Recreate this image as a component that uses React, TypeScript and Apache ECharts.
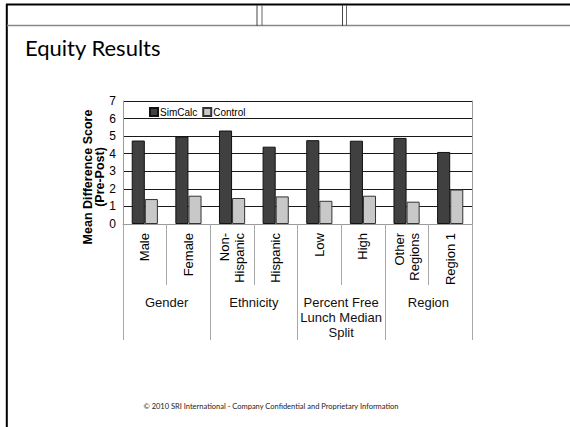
import React, { useEffect, useRef } from "react";
import * as echarts from "echarts";

const categories = ["Male", "Female", "Non-\nHispanic", "Hispanic", "Low", "High", "Other\nRegions", "Region 1"];
const groups = ["Gender", "Ethnicity", "Percent Free\nLunch Median\nSplit", "Region"];
const seriesNames = ["SimCalc", "Control"];
const simCalc = [4.75, 4.98, 5.32, 4.4, 4.77, 4.74, 4.9, 4.1];
const control = [1.42, 1.61, 1.48, 1.57, 1.32, 1.61, 1.27, 1.96];
const yMin = 0;
const yMax = 7;
const yStep = 1;
const titleText = "Equity Results";
const yAxisTitle = "Mean Difference Score\n(Pre-Post)";
const footerText = "© 2010 SRI International - Company Confidential and Proprietary Information";

const ARIAL = "'Liberation Sans', Arial, sans-serif";

export default function App() {
  const ref = useRef<HTMLDivElement>(null);
  useEffect(() => {
    if (!ref.current) return;
    const chart = echarts.init(ref.current, null, { renderer: "svg" });
    const option: any = {
      animation: false,
      backgroundColor: "#ffffff",
      grid: { left: 123, right: 98, top: 101, bottom: 203, containLabel: false },
      legend: {
        data: seriesNames,
        left: 149,
        top: 107,
        padding: 0,
        itemWidth: 8,
        itemHeight: 8,
        itemGap: 5,
        icon: "rect",
        textStyle: { fontFamily: ARIAL, fontSize: 10, color: "#000", padding: [0, 0, 0, -3] },
      },
      xAxis: [
        {
          type: "category",
          data: categories,
          gridIndex: 0,
          position: "bottom",
          axisLine: { show: true, lineStyle: { color: "#9a9a9a", width: 1 } },
          axisTick: { show: true, interval: 0, length: 61, lineStyle: { color: "#a8a8a8", width: 1 } },
          axisLabel: {
            interval: 0,
            rotate: 90,
            margin: 9,
            fontFamily: ARIAL,
            fontSize: 13,
            lineHeight: 15,
            color: "#000",
          },
        },
        {
          type: "category",
          data: groups,
          gridIndex: 0,
          position: "bottom",
          axisLine: { show: false },
          axisTick: { show: true, interval: 0, length: 116, lineStyle: { color: "#a8a8a8", width: 1 } },
          axisLabel: {
            interval: 0,
            margin: 71,
            fontFamily: ARIAL,
            fontSize: 13,
            lineHeight: 15,
            color: "#111",
            verticalAlign: "top",
          },
        },
      ],
      yAxis: [
        {
          type: "value",
          min: yMin,
          max: yMax,
          interval: yStep,
          axisLine: { show: true, lineStyle: { color: "#9a9a9a", width: 1 } },
          axisTick: { show: false },
          axisLabel: { fontFamily: ARIAL, fontSize: 12, color: "#000", margin: 7 },
          splitLine: { show: true, lineStyle: { color: "#1a1a1a", width: 1 } },
        },
        {
          type: "value",
          min: yMin,
          max: yMax,
          interval: yStep,
          position: "right",
          axisLine: { show: true, lineStyle: { color: "#9a9a9a", width: 1 } },
          axisTick: { show: false },
          axisLabel: { show: false },
          splitLine: { show: false },
        },
      ],
      series: [
        {
          name: seriesNames[0],
          type: "bar",
          data: simCalc,
          xAxisIndex: 0,
          yAxisIndex: 0,
          barGap: "0%",
          barCategoryGap: "40%",
          itemStyle: { color: "#404040", borderColor: "#111", borderWidth: 1 },
        },
        {
          name: seriesNames[1],
          type: "bar",
          data: control,
          xAxisIndex: 0,
          yAxisIndex: 0,
          barGap: "0%",
          barCategoryGap: "40%",
          itemStyle: { color: "#c8c8c8", borderColor: "#333", borderWidth: 1 },
        },
      ],
      graphic: [
        { type: "line", shape: { x1: 6, y1: 4.5, x2: 570, y2: 4.5 }, style: { stroke: "#000", lineWidth: 2 } },
        { type: "line", shape: { x1: 6.8, y1: 4, x2: 6.8, y2: 427 }, style: { stroke: "#000", lineWidth: 2 } },
        { type: "line", shape: { x1: 7, y1: 25.5, x2: 570, y2: 25.5 }, style: { stroke: "#888", lineWidth: 1.5 } },
        { type: "line", shape: { x1: 257, y1: 5, x2: 257, y2: 26 }, style: { stroke: "#444", lineWidth: 1 } },
        { type: "line", shape: { x1: 262, y1: 5, x2: 262, y2: 26 }, style: { stroke: "#666", lineWidth: 1 } },
        { type: "line", shape: { x1: 342.5, y1: 5, x2: 342.5, y2: 26 }, style: { stroke: "#444", lineWidth: 1 } },
        { type: "line", shape: { x1: 346.5, y1: 5, x2: 346.5, y2: 26 }, style: { stroke: "#666", lineWidth: 1 } },
        {
          type: "text",
          x: 25,
          y: 47,
          style: { text: titleText, font: "22px Lato, 'Noto Sans', sans-serif", fill: "#000", textAlign: "left", textVerticalAlign: "middle" },
        },
        {
          type: "text",
          x: 94,
          y: 177,
          rotation: Math.PI / 2,
          style: {
            text: yAxisTitle,
            font: "bold 12.5px 'Liberation Sans', Arial, sans-serif",
            lineHeight: 12,
            fill: "#000",
            textAlign: "center",
            textVerticalAlign: "middle",
          },
        },
        {
          type: "text",
          x: 271,
          y: 406,
          style: { text: footerText, font: "7.5px Lato, 'Noto Sans', sans-serif", fill: "#222", textAlign: "center", textVerticalAlign: "middle" },
        },
      ],
    };
    chart.setOption(option);
    return () => chart.dispose();
  }, []);
  return (
    <div
      ref={ref}
      style={{ position: "absolute", left: 0, top: 0, width: 570, height: 427, background: "#fff" }}
    />
  );
}
